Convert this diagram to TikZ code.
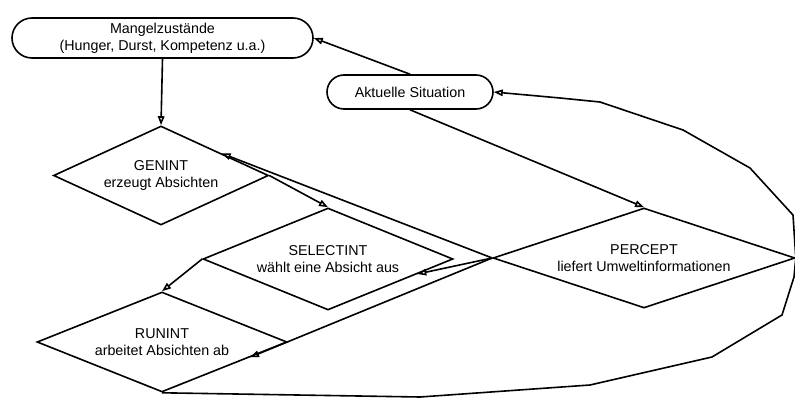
\documentclass[tikz,border=0pt]{standalone}
\usepackage{fontspec}
\setmainfont{Liberation Sans}
\usetikzlibrary{shapes.geometric,arrows.meta,calc}
\begin{document}
\begin{tikzpicture}[x=1pt,y=-1pt, line width=1.6pt,
  every node/.style={font=\fontsize{14.3}{17}\selectfont, align=center},
  term/.style={draw, rounded corners=#1, inner sep=0pt},
  dia/.style={draw, diamond, inner sep=0pt, aspect=2.5},
  conn/.style={-{Triangle[open,length=9pt,width=6.5pt]}, line join=round}]
\useasboundingbox (0,0) rectangle (795,398);

\node[term=20pt, minimum width=301pt, minimum height=40pt] (mang) at (162.5,38)
  {Mangelzustände\\(Hunger, Durst, Kompetenz u.a.)};
\node[term=17pt, minimum width=166pt, minimum height=34pt] (akt) at (410,92)
  {Aktuelle Situation};

\node[dia, minimum width=215pt, minimum height=99pt] (gen) at (161,175.5)
  {GENINT\\erzeugt Absichten};
\node[dia, minimum width=250pt, minimum height=102pt] (sel) at (328,259)
  {SELECTINT\\wählt eine Absicht aus};
\node[dia, minimum width=250pt, minimum height=100pt] (run) at (162,342)
  {RUNINT\\arbeitet Absichten ab};
\node[dia, minimum width=302pt, minimum height=100pt] (per) at (644,258)
  {PERCEPT\\liefert Umweltinformationen};

\draw[conn] (mang.south) -- (gen.north);
\draw[conn] (gen.east) -- (sel.north);
\draw[conn] (sel.west) -- (run.north);
\draw[conn] (akt.north) -- (mang.east);
\draw[conn] (akt.south) -- (per.north);
\draw[conn] (per.west) -- ($(gen.north)!0.56!(gen.east)$);
\draw[conn] (per.west) -- ($(sel.east)!0.29!(sel.south)$);
\draw[conn] (per.west) -- ($(run.east)!0.3!(run.south)$);
\draw[conn] (run.south) -- (420,397) -- (590,385) -- (712,357) -- (782,315)
  -- (794,277) -- (per.east) -- (793,215) -- (750,168) -- (683,130)
  -- (600,102) -- (560,98) -- (akt.east);
\end{tikzpicture}
\end{document}
